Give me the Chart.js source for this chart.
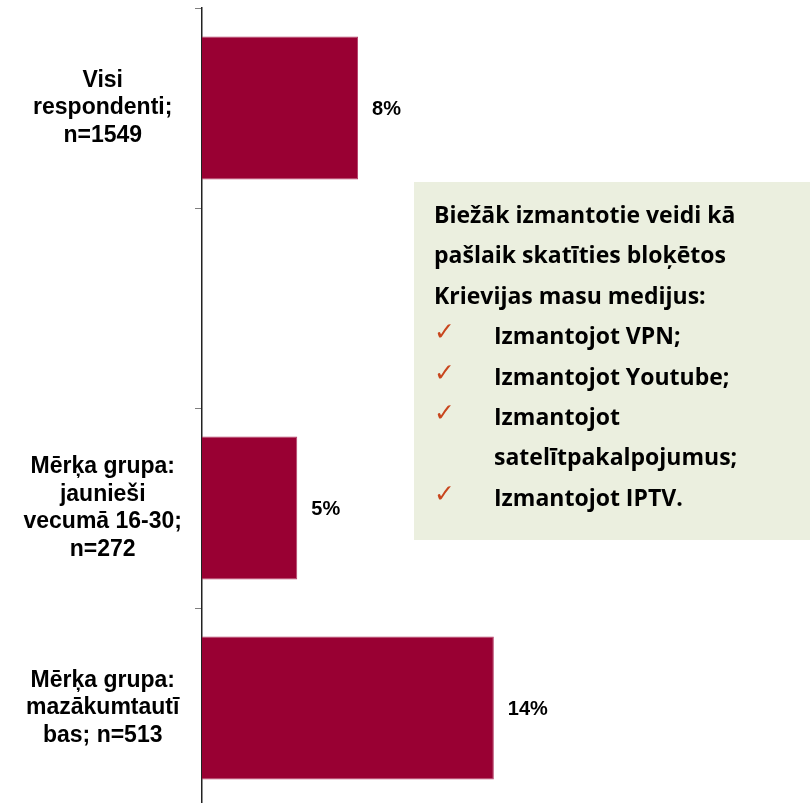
<!DOCTYPE html>
<html lang="lv">
<head>
    <meta charset="UTF-8">
    <title>Bloķēto Krievijas mediju skatīšanās</title>
    <script src="https://cdn.jsdelivr.net/npm/chart.js"></script>
    <style>
        html, body { margin: 0; padding: 0; overflow: hidden; background: #fff; }
        #wrap { width: 810px; height: 808px; position: relative; }
    </style>
</head>
<body>
<div id="wrap">
    <canvas id="groupChart"></canvas>
</div>
<script>
    // kategorijas (otrā vieta ir tukša, kā oriģinālā)
    const groups = [
        ['Visi', 'respondenti;', 'n=1549'],
        '',
        ['Mērķa grupa:', 'jaunieši', 'vecumā 16-30;', 'n=272'],
        ['Mērķa grupa:', 'mazākumtautī', 'bas; n=513']
    ];
    // īpatsvars, %
    const shares = [7.7, null, 4.7, 14.4];
    const xMax = 30;

    // teksta bloks
    const noteTitle = ['Biežāk izmantotie veidi kā', 'pašlaik skatīties bloķētos', 'Krievijas masu medijus:'];
    const noteItems = [['Izmantojot VPN;'], ['Izmantojot Youtube;'], ['Izmantojot', 'satelītpakalpojumus;'], ['Izmantojot IPTV.']];

    const valueLabels = {
        id: 'valueLabels',
        afterDatasetsDraw(chart) {
            const ctx = chart.ctx;
            const meta = chart.getDatasetMeta(0);
            ctx.save();
            ctx.font = 'bold 20px "Liberation Sans", Arial, sans-serif';
            ctx.fillStyle = '#000';
            ctx.textAlign = 'left';
            ctx.textBaseline = 'middle';
            meta.data.forEach((bar, i) => {
                const v = shares[i];
                if (v == null) return;
                ctx.fillText(Math.round(v) + '%', bar.x + 14, bar.y + 1);
            });
            ctx.restore();
        }
    };

    const noteBox = {
        id: 'noteBox',
        afterDraw(chart) {
            const ctx = chart.ctx;
            const textFont = 'bold 23px "Open Sans", Lato, sans-serif';
            ctx.save();
            ctx.fillStyle = '#EBEFDF';
            ctx.fillRect(414, 182, 396, 358);
            ctx.fillStyle = '#000';
            ctx.textAlign = 'left';
            ctx.textBaseline = 'alphabetic';
            ctx.font = textFont;
            let y = 223;
            const step = 40.4;
            noteTitle.forEach(line => {
                ctx.fillText(line, 434, y);
                y += step;
            });
            noteItems.forEach(item => {
                ctx.fillStyle = '#C8461E';
                ctx.font = '25px "DejaVu Sans", sans-serif';
                ctx.fillText('✓', 434, y - 4);
                ctx.fillStyle = '#000';
                ctx.font = textFont;
                item.forEach(line => {
                    ctx.fillText(line, 494, y);
                    y += step;
                });
            });
            ctx.restore();
        }
    };

    new Chart(document.getElementById('groupChart'), {
        type: 'bar',
        data: {
            labels: groups,
            datasets: [{
                data: shares,
                backgroundColor: '#990033',
                borderColor: '#b5406a',
                borderWidth: 1,
                categoryPercentage: 0.715,
                barPercentage: 1
            }]
        },
        options: {
            indexAxis: 'y',
            responsive: true,
            maintainAspectRatio: false,
            animation: false,
            layout: { padding: { top: 8, right: 0, bottom: 0, left: 0 } },
            plugins: { legend: { display: false }, tooltip: { enabled: false } },
            scales: {
                x: { display: false, min: 0, max: xMax },
                y: {
                    afterFit(scale) {
                        scale.width = 202;
                        scale.paddingTop = 0;
                        scale.paddingBottom = 0;
                    },
                    grid: {
                        drawOnChartArea: false,
                        drawTicks: true,
                        tickLength: 7,
                        color: '#7f7f7f',
                        offset: true
                    },
                    border: { display: true, color: '#222', width: 1.5 },
                    ticks: {
                        crossAlign: 'center',
                        padding: 13,
                        color: '#000',
                        font: { family: '"Liberation Sans", Arial, sans-serif', size: 23, weight: 'bold', lineHeight: 1.2 }
                    }
                }
            }
        },
        plugins: [valueLabels, noteBox]
    });
</script>
</body>
</html>
